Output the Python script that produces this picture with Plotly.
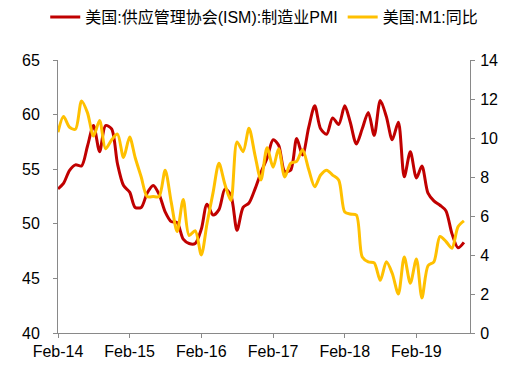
import pandas as pd
import plotly.graph_objects as go

# Monthly, Feb-2014 .. Oct-2019
months = pd.date_range("2014-02-01", periods=69, freq="MS")

ism_pmi = [
    53.2, 53.7, 54.9, 55.4, 55.3, 57.1, 59.0, 56.6, 59.0, 58.7, 55.5,
    53.5, 52.9, 51.5, 51.5, 52.8, 53.5, 52.7, 51.1, 50.2, 50.1, 48.6, 48.2,
    48.2, 49.5, 51.8, 50.8, 51.3, 53.2, 52.6, 49.4, 51.5, 51.9, 53.2, 54.7,
    56.0, 57.7, 57.2, 54.8, 54.9, 57.8, 56.3, 58.8, 60.8, 58.7, 58.2, 59.7,
    59.1, 60.8, 59.3, 57.3, 58.7, 60.2, 58.1, 61.3, 59.8, 57.7, 59.3, 54.3,
    56.6, 54.2, 55.3, 52.8, 52.1, 51.7, 51.2, 49.1, 47.8, 48.3,
]

m1_yoy = [
    10.3, 11.1, 10.55, 10.45, 11.9, 11.3, 10.1, 10.9, 9.45, 9.9, 10.2,
    9.0, 10.05, 9.0, 8.0, 7.0, 7.0, 7.0, 8.35, 6.7, 5.2, 6.85, 5.0,
    5.25, 4.0, 5.6, 7.2, 8.7, 7.6, 6.8, 9.8, 9.3, 10.5, 9.1, 7.85,
    9.5, 8.5, 9.45, 8.0, 8.7, 8.8, 9.4, 8.4, 7.5, 8.1, 8.35, 8.1,
    7.85, 6.2, 6.1, 6.05, 3.9, 3.65, 3.6, 2.7, 3.65, 3.05, 2.0, 3.9,
    2.55, 3.8, 1.8, 3.45, 3.65, 4.95, 4.7, 4.35, 5.45, 5.75,
]

x_tick_vals = ["2014-02-01", "2015-02-01", "2016-02-01", "2017-02-01", "2018-02-01", "2019-02-01"]
x_tick_text = ["Feb-14", "Feb-15", "Feb-16", "Feb-17", "Feb-18", "Feb-19"]
left_ticks = [40, 45, 50, 55, 60, 65]
right_ticks = [0, 2, 4, 6, 8, 10, 12, 14]

names = ["美国:供应管理协会(ISM):制造业PMI", "美国:M1:同比"]
RED = "#C00000"
YELLOW = "#FFC000"
FONT = "Liberation Sans, Arial, Noto Sans CJK SC, sans-serif"

fig = go.Figure()
fig.add_trace(go.Scatter(x=months, y=ism_pmi, name=names[0], mode="lines",
                         line=dict(color=RED, width=3, shape="spline", smoothing=0.8)))
fig.add_trace(go.Scatter(x=months, y=m1_yoy, name=names[1], mode="lines", yaxis="y2",
                         line=dict(color=YELLOW, width=3, shape="spline", smoothing=0.8)))

axis_common = dict(showgrid=False, zeroline=False, showline=True, linecolor="#898989",
                   linewidth=1, ticks="outside", ticklen=4, tickcolor="#898989",
                   tickfont=dict(family=FONT, size=16, color="#000000"))

fig.update_layout(
    width=526, height=370,
    margin=dict(l=58, r=56, t=60, b=37, autoexpand=False),
    paper_bgcolor="white", plot_bgcolor="white",
    font=dict(family=FONT, size=16, color="#000000"),
    showlegend=True,
    legend=dict(orientation="h", x=-0.031, xanchor="left",
                y=1.1575, yanchor="middle",
                font=dict(family=FONT, size=16, color="#000000"),
                itemwidth=30, tracegroupgap=0, bgcolor="rgba(0,0,0,0)"),
    xaxis=dict(axis_common, type="date", range=["2014-02-01", "2019-11-01"],
               tickvals=x_tick_vals, ticktext=x_tick_text),
    yaxis=dict(axis_common, range=[40, 65], tickvals=left_ticks, ticklabelstandoff=10),
    yaxis2=dict(axis_common, range=[0, 14], tickvals=right_ticks, overlaying="y", side="right",
                ticklabelstandoff=2),
)

fig.write_html("out.html", config={"displayModeBar": False},
               post_script="document.body.style.margin='0';document.body.style.overflow='hidden';")
